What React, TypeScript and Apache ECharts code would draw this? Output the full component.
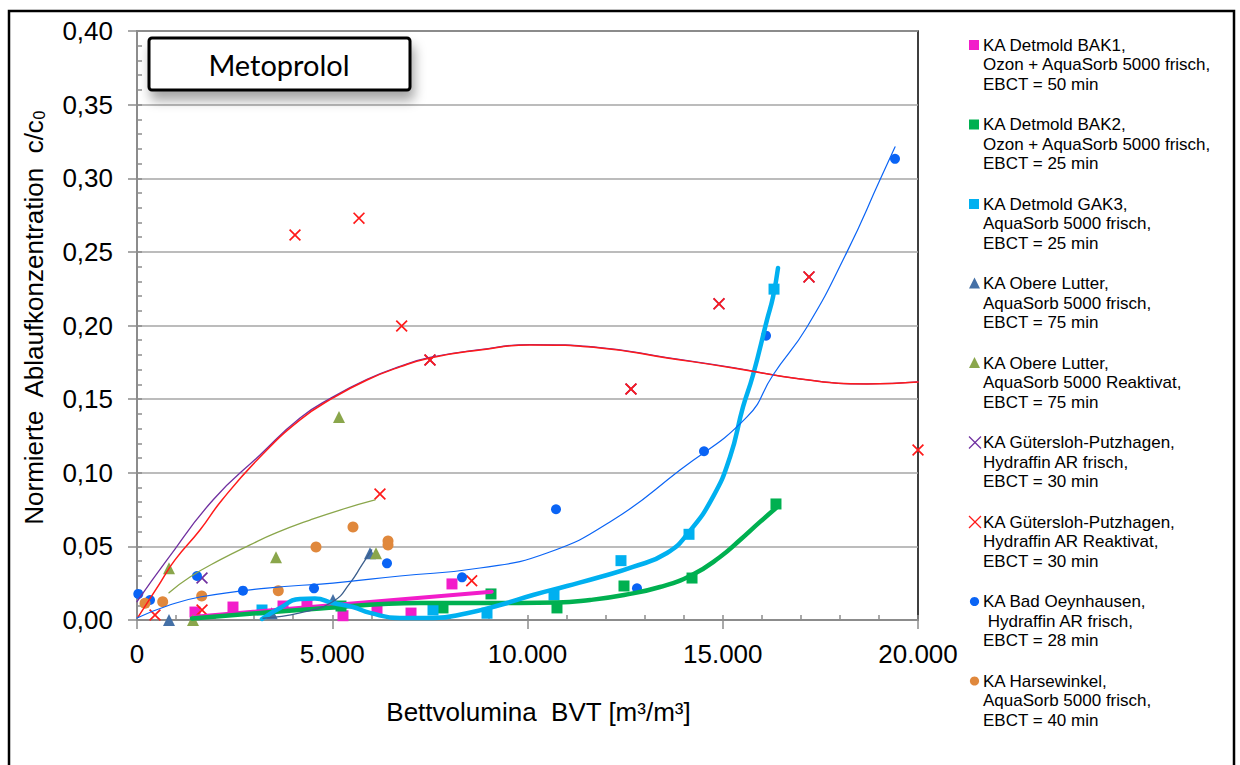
import React, { useEffect, useRef } from "react";
import * as echarts from "echarts";

// ---------- data ----------
const bak1X = [1485, 2458, 3739, 4353, 5275, 6146, 7017, 8066];
const bak1Y = [0.0054, 0.0088, 0.0095, 0.0102, 0.0029, 0.0068, 0.0047, 0.0245];
const bak1TrendX = [1485, 9083];
const bak1TrendY = [0.0022, 0.0192];

const bak2X = [5224, 7836, 9065, 10755, 12471, 14213, 16363];
const bak2Y = [0.0095, 0.0082, 0.0177, 0.0082, 0.0231, 0.0285, 0.0788];
const bak2TrendX = [1408, 3150, 4686, 7247, 8784, 10763, 11601, 12471, 13393, 14213, 14930, 15442, 15954, 16364];
const bak2TrendY = [0.001, 0.0048, 0.0078, 0.0115, 0.0115, 0.0118, 0.0136, 0.017, 0.0224, 0.0306, 0.0428, 0.0543, 0.0666, 0.0761];

const gak3X = [3201, 7580, 8963, 10679, 12394, 14136, 16313];
const gak3Y = [0.0068, 0.0068, 0.0046, 0.017, 0.0403, 0.0582, 0.2247];
const gak3TrendX = [3201, 3662, 4174, 4558, 5019, 5531, 5967, 6735, 7580, 8451, 9296, 10141, 11012, 11857, 12702, 13572, 14136, 14750, 15186, 15519, 15775, 16133, 16287, 16415];
const gak3TrendY = [0.0007, 0.0082, 0.0143, 0.0146, 0.0115, 0.0088, 0.0048, 0.0014, 0.0014, 0.0046, 0.0102, 0.017, 0.0231, 0.0292, 0.036, 0.0455, 0.0598, 0.0836, 0.1107, 0.1447, 0.1664, 0.2038, 0.2194, 0.2391];

const olX = [819, 3449, 5019, 5967];
const olY = [0.0, 0.0046, 0.0136, 0.0453];
const olTrendX = [3227, 4174, 5019, 5454, 5761, 6010];
const olTrendY = [0.0012, 0.0048, 0.0126, 0.0251, 0.0374, 0.0476];

const olrX = [819, 1434, 3560, 5173, 6120];
const olrY = [0.0351, 0.0, 0.0426, 0.1379, 0.0453];
const olrTrendX = [819, 1357, 2125, 2894, 3560, 4430, 5198, 6095];
const olrTrendY = [0.0185, 0.0292, 0.0408, 0.051, 0.0591, 0.0679, 0.0747, 0.0815];

const gfX = [1665, 7503, 12650, 14904, 17209];
const gfY = [0.0285, 0.1766, 0.1569, 0.2147, 0.233];
const gfTrendX = [0, 768, 1946, 3150, 4174, 5019, 5890, 6735, 7503, 8784, 10064, 11857, 13572, 15263, 16978, 18694, 20000];
const gfTrendY = [0.0124, 0.0408, 0.0815, 0.1121, 0.1372, 0.1515, 0.1634, 0.1722, 0.1783, 0.1836, 0.187, 0.185, 0.1782, 0.1714, 0.1638, 0.1603, 0.1617];

const grX = [461, 1665, 4046, 5685, 6778, 7503, 6222, 8571, 12650, 14904, 17209, 20000];
const grY = [0.0034, 0.0068, 0.2615, 0.2729, 0.1997, 0.1766, 0.0856, 0.0267, 0.1569, 0.2147, 0.233, 0.1155];
const grTrendX = [26, 589, 973, 1613, 2177, 3150, 4174, 5019, 5890, 6735, 7503, 8784, 10064, 11857, 13572, 15263, 16978, 18694, 20000];
const grTrendY = [0.002, 0.0251, 0.0408, 0.0611, 0.0815, 0.1107, 0.1359, 0.1508, 0.163, 0.1719, 0.178, 0.1834, 0.1868, 0.1848, 0.178, 0.1712, 0.1637, 0.1603, 0.1617];

const boX = [33, 333, 1536, 2714, 4533, 6402, 8323, 10730, 12804, 14520, 16108, 19411];
const boY = [0.0177, 0.0136, 0.0299, 0.0199, 0.0215, 0.0385, 0.029, 0.0752, 0.0215, 0.1146, 0.1931, 0.3132];
const boTrendX = [0, 768, 1613, 3329, 5019, 6735, 8784, 10500, 12190, 13905, 15621, 16287, 17158, 18182, 19027, 19411];
const boTrendY = [0.0014, 0.0095, 0.0156, 0.0217, 0.0251, 0.0299, 0.0353, 0.0455, 0.0679, 0.1019, 0.1379, 0.1664, 0.199, 0.25, 0.2989, 0.3213];

const hwX = [205, 658, 1657, 3618, 4584, 5531, 6428, 6428];
const hwY = [0.0113, 0.0124, 0.0163, 0.0199, 0.0496, 0.0632, 0.0537, 0.051];

const xTicks = [0, 5000, 10000, 15000, 20000];
const yTicks = [0, 0.05, 0.1, 0.15, 0.2, 0.25, 0.3, 0.35, 0.4];

const legendLabels = [
  "KA Detmold BAK1,\nOzon + AquaSorb 5000 frisch,\nEBCT = 50 min",
  "KA Detmold BAK2,\nOzon + AquaSorb 5000 frisch,\nEBCT = 25 min",
  "KA Detmold GAK3,\nAquaSorb 5000 frisch,\nEBCT = 25 min",
  "KA Obere Lutter,\nAquaSorb 5000 frisch,\nEBCT = 75 min",
  "KA Obere Lutter,\nAquaSorb 5000 Reaktivat,\nEBCT = 75 min",
  "KA Gütersloh-Putzhagen,\nHydraffin AR frisch,\nEBCT = 30 min",
  "KA Gütersloh-Putzhagen,\nHydraffin AR Reaktivat,\nEBCT = 30 min",
  "KA Bad Oeynhausen,\n Hydraffin AR frisch,\nEBCT = 28 min",
  "KA Harsewinkel,\nAquaSorb 5000 frisch,\nEBCT = 40 min",
];

const titleText = "Metoprolol";
const xTitle = "Bettvolumina  BVT [m³/m³]";
const yTitle = "Normierte  Ablaufkonzentration  c/c{sub|0}";

// ---------- styles ----------
const FONT = '"Liberation Sans", Arial, sans-serif';
const C = {
  magenta: "#F21DCA",
  green: "#00B050",
  cyan: "#00B0F0",
  steel: "#4470A6",
  steelLine: "#3B5E8C",
  olive: "#8AA64B",
  purple: "#7030A0",
  red: "#FF1A1A",
  blue: "#0A64F5",
  orange: "#E0883C",
};
const X_PATH =
  "path://M0,1.2L1.2,0L6,4.8L10.8,0L12,1.2L7.2,6L12,10.8L10.8,12L6,7.2L1.2,12L0,10.8L4.8,6Z";

const legendStyles = [
  { color: C.magenta, shape: "rect" },
  { color: C.green, shape: "rect" },
  { color: C.cyan, shape: "rect" },
  { color: C.steel, shape: "triangle" },
  { color: C.olive, shape: "triangle" },
  { color: C.purple, shape: "x" },
  { color: C.red, shape: "x" },
  { color: C.blue, shape: "circle" },
  { color: C.orange, shape: "circle" },
];

const zip = (xs: number[], ys: number[]) => xs.map((x, i) => [x, ys[i]]);
const fmtX = (v: number) => String(Math.round(v)).replace(/\B(?=(\d{3})+(?!\d))/g, ".");
const fmtY = (v: number) => v.toFixed(2).replace(".", ",");

function scatter(name: string, xs: number[], ys: number[], color: string, symbol: string, size: number) {
  return {
    name,
    type: "scatter",
    data: zip(xs, ys),
    symbol,
    symbolSize: size,
    clip: false,
    itemStyle: { color, opacity: 1 },
    z: 3,
  };
}
function trend(xs: number[], ys: number[], color: string, width: number, z = 4) {
  return {
    type: "line",
    data: zip(xs, ys),
    showSymbol: false,
    symbol: "none",
    smooth: 0.5,
    lineStyle: { color, width, cap: "round", join: "round" },
    z,
    silent: true,
  };
}

function buildLegend() {
  const els: any[] = [];
  legendLabels.forEach((label, i) => {
    const yc = 45 + i * 79.5;
    const st = legendStyles[i];
    if (st.shape === "rect") {
      els.push({ type: "rect", shape: { x: 969, y: yc - 5, width: 10, height: 10 }, style: { fill: st.color } });
    } else if (st.shape === "triangle") {
      els.push({
        type: "polygon",
        shape: { points: [[974.5, yc - 6], [980, yc + 5], [969, yc + 5]] },
        style: { fill: st.color },
      });
    } else if (st.shape === "x") {
      els.push({ type: "line", shape: { x1: 969, y1: yc - 6, x2: 981, y2: yc + 6 }, style: { stroke: st.color, lineWidth: 1.3 } });
      els.push({ type: "line", shape: { x1: 969, y1: yc + 6, x2: 981, y2: yc - 6 }, style: { stroke: st.color, lineWidth: 1.3 } });
    } else {
      els.push({ type: "circle", shape: { cx: 974.5, cy: yc, r: 4.6 }, style: { fill: st.color } });
    }
    els.push({
      type: "text",
      x: 983,
      y: yc - 9.75,
      style: {
        text: label,
        fontSize: 17,
        fontFamily: FONT,
        fill: "#000",
        lineHeight: 19.5,
        verticalAlign: "top",
        align: "left",
      },
    });
  });
  return els;
}

export default function App() {
  const ref = useRef<HTMLDivElement>(null);
  useEffect(() => {
    if (!ref.current) return;
    const chart = echarts.init(ref.current, undefined, { renderer: "svg" });
    const grid = { left: 137, top: 31, width: 781, height: 589, show: true, borderColor: "#000", borderWidth: 1.5, backgroundColor: "transparent" };
    const option: any = {
      animation: false,
      backgroundColor: "#fff",
      textStyle: { fontFamily: FONT },
      grid,
      xAxis: [
        {
          type: "value",
          min: xTicks[0],
          max: xTicks[xTicks.length - 1],
          interval: xTicks[1] - xTicks[0],
          position: "bottom",
          axisLine: { show: true, onZero: false, lineStyle: { color: "#8C8C8C", width: 2 } },
          axisTick: { show: true, length: 9, lineStyle: { color: "#8C8C8C", width: 1.5 } },
          axisLabel: { fontSize: 26, color: "#000", margin: 21, fontFamily: FONT, formatter: fmtX },
          splitLine: { show: false },
          name: xTitle,
          nameLocation: "middle",
          nameGap: 79,
          nameTextStyle: { fontSize: 26, color: "#000", fontFamily: FONT, padding: [0, 0, 0, 22] },
        },
        {
          type: "value",
          min: 0,
          max: 20000,
          interval: 1000,
          position: "bottom",
          axisLine: { show: false, onZero: false },
          axisTick: { show: true, inside: true, length: 5, lineStyle: { color: "#8C8C8C", width: 1.5 } },
          axisLabel: { show: false },
          splitLine: { show: false },
        },
      ],
      yAxis: [
        {
          type: "value",
          min: yTicks[0],
          max: yTicks[yTicks.length - 1],
          interval: yTicks[1] - yTicks[0],
          position: "left",
          axisLine: { show: true, onZero: false, lineStyle: { color: "#8C8C8C", width: 2 } },
          axisTick: { show: true, length: 9, lineStyle: { color: "#8C8C8C", width: 1.5 } },
          axisLabel: { fontSize: 26, color: "#000", margin: 24, fontFamily: FONT, formatter: fmtY },
          splitLine: { show: true, lineStyle: { color: "#A6A6A6", width: 1.5 } },
          name: yTitle,
          nameLocation: "middle",
          nameGap: 90,
          nameTextStyle: {
            fontSize: 26,
            color: "#000",
            fontFamily: FONT,
            padding: [0, 0, 0, 15],
            rich: { sub: { fontSize: 16, fontFamily: FONT, color: "#000", verticalAlign: "bottom", lineHeight: 20 } },
          },
        },
        {
          type: "value",
          min: 0,
          max: 0.4,
          interval: 0.01,
          position: "left",
          axisLine: { show: false, onZero: false },
          axisTick: { show: true, inside: true, length: 5, lineStyle: { color: "#8C8C8C", width: 1.5 } },
          axisLabel: { show: false },
          splitLine: { show: false },
        },
      ],
      series: [
        scatter(legendLabels[0], bak1X, bak1Y, C.magenta, "rect", 11),
        trend(bak1TrendX, bak1TrendY, C.magenta, 4),
        scatter(legendLabels[1], bak2X, bak2Y, C.green, "rect", 11),
        trend(bak2TrendX, bak2TrendY, C.green, 4.5),
        scatter(legendLabels[2], gak3X, gak3Y, C.cyan, "rect", 11),
        trend(gak3TrendX, gak3TrendY, C.cyan, 4.5),
        scatter(legendLabels[3], olX, olY, C.steel, "triangle", 12),
        trend(olTrendX, olTrendY, C.steelLine, 1.3),
        scatter(legendLabels[4], olrX, olrY, C.olive, "triangle", 12),
        trend(olrTrendX, olrTrendY, C.olive, 1.3),
        scatter(legendLabels[5], gfX, gfY, C.purple, X_PATH, 12),
        trend(gfTrendX, gfTrendY, C.purple, 1.3),
        scatter(legendLabels[6], grX, grY, C.red, X_PATH, 12),
        trend(grTrendX, grTrendY, C.red, 1.5),
        scatter(legendLabels[7], boX, boY, C.blue, "circle", 10),
        trend(boTrendX, boTrendY, C.blue, 1.2),
        scatter(legendLabels[8], hwX, hwY, C.orange, "circle", 11),
      ],
      graphic: [
        {
          type: "rect",
          z: 0,
          silent: true,
          shape: { x: 9, y: 11, width: 1225, height: 790 },
          style: { fill: "none", stroke: "#000", lineWidth: 2.5 },
        },
        {
          type: "rect",
          z: 20,
          shape: { x: 149, y: 38, width: 261, height: 52, r: 3 },
          style: {
            fill: "#fff",
            stroke: "#000",
            lineWidth: 3,
            shadowBlur: 12,
            shadowOffsetX: 3,
            shadowOffsetY: 9,
            shadowColor: "rgba(0,0,0,0.35)",
          },
        },
        {
          type: "text",
          z: 21,
          x: 279,
          y: 64,
          style: {
            text: titleText,
            fontSize: 29,
            fontFamily: "Lato, 'Open Sans', sans-serif",
            fill: "#000",
            align: "center",
            verticalAlign: "middle",
          },
        },
        ...buildLegend(),
      ],
    };
    chart.setOption(option);
    return () => chart.dispose();
  }, []);
  return <div ref={ref} style={{ position: "fixed", left: 0, top: 0, width: 1240, height: 765 }} />;
}
